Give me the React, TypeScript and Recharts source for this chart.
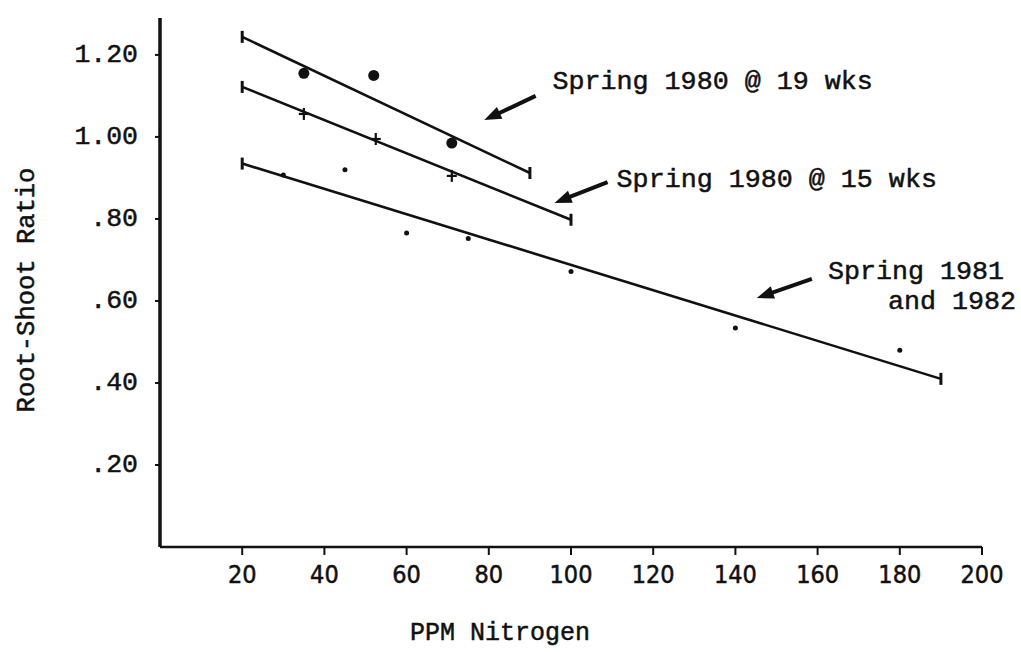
import React from 'react';
import {
  ComposedChart,
  Line,
  Scatter,
  XAxis,
  YAxis,
  ReferenceLine,
  ReferenceDot,
} from 'recharts';

// ---- data ----
const xTicks = [20, 40, 60, 80, 100, 120, 140, 160, 180, 200];
const yTicks = [0.2, 0.4, 0.6, 0.8, 1.0, 1.2];
const yTickLabels = ['.20', '.40', '.60', '.80', '1.00', '1.20'];

const wks19Fit = [
  { x: 20, y: 1.244 },
  { x: 90, y: 0.912 },
];
const wks19Points = [
  { x: 35, y: 1.155 },
  { x: 52, y: 1.15 },
  { x: 71, y: 0.985 },
];
const wks15Fit = [
  { x: 20, y: 1.122 },
  { x: 100, y: 0.798 },
];
const wks15Points = [
  { x: 35, y: 1.056 },
  { x: 52.5, y: 0.995 },
  { x: 71, y: 0.905 },
];
const s8182Fit = [
  { x: 20, y: 0.935 },
  { x: 190, y: 0.41 },
];
const s8182Points = [
  { x: 30, y: 0.907 },
  { x: 45, y: 0.92 },
  { x: 60, y: 0.766 },
  { x: 75, y: 0.752 },
  { x: 100, y: 0.672 },
  { x: 140, y: 0.534 },
  { x: 180, y: 0.48 },
];

// annotation labels (anchor in data units)
const annotationTexts = ['Spring 1980 @ 19 wks', 'Spring 1980 @ 15 wks', 'Spring 1981', 'and 1982'];
const annotationX = [95.5, 111.1, 162.5, 177.1];
const annotationY = [1.134, 0.895, 0.671, 0.598];

// arrows (from -> to, data units)
const arrowSegments = [
  [{ x: 91.4, y: 1.1 }, { x: 78.9, y: 1.041 }],
  [{ x: 108.9, y: 0.89 }, { x: 96.0, y: 0.839 }],
  [{ x: 158.6, y: 0.654 }, { x: 145.2, y: 0.607 }],
];

const MONO = '"Liberation Mono", "DejaVu Sans Mono", monospace';
const NARROW = '"DejaVu Sans Condensed", "DejaVu Sans", sans-serif';
const INK = '#111';

const Arrow = (p: any) => {
  const { x1, y1, x2, y2 } = p;
  const dx = x2 - x1;
  const dy = y2 - y1;
  const L = Math.hypot(dx, dy) || 1;
  const ux = dx / L;
  const uy = dy / L;
  const hl = 17;
  const hw = 6.5;
  const bx = x2 - ux * hl;
  const by = y2 - uy * hl;
  const px = -uy;
  const py = ux;
  return (
    <g>
      <line x1={x1} y1={y1} x2={bx + ux * 2} y2={by + uy * 2} stroke={INK} strokeWidth={4} />
      <polygon
        points={`${x2},${y2} ${bx + px * hw},${by + py * hw} ${bx - px * hw},${by - py * hw}`}
        fill={INK}
      />
    </g>
  );
};

const EndTick = (p: any) => {
  const { cx, cy, index } = p;
  return (
    <line key={`t${index}`} x1={cx} x2={cx} y1={cy - 6} y2={cy + 6} stroke={INK} strokeWidth={3} />
  );
};

const BigDot = (p: any) => <circle cx={p.cx} cy={p.cy} r={5.5} fill={INK} />;
const SmallDot = (p: any) => <circle cx={p.cx} cy={p.cy} r={2.5} fill={INK} />;
const Plus = (p: any) => (
  <g>
    <line x1={p.cx - 5} x2={p.cx + 5} y1={p.cy} y2={p.cy} stroke={INK} strokeWidth={2.2} />
    <line x1={p.cx} x2={p.cx} y1={p.cy - 6} y2={p.cy + 6} stroke={INK} strokeWidth={2.2} />
  </g>
);

const textInk = { fill: INK, stroke: INK, strokeWidth: 0.5 };

const YTick = (p: any) => {
  const { x, y, payload } = p;
  const i = yTicks.indexOf(payload.value);
  return (
    <text x={x} y={y} textAnchor="end" dominantBaseline="central" fontFamily={MONO} fontSize={26.5} {...textInk}>
      {yTickLabels[i] ?? payload.value}
    </text>
  );
};

const XTick = (p: any) => {
  const { x, y, payload } = p;
  return (
    <text x={x} y={y} textAnchor="middle" dominantBaseline="hanging" fontFamily={NARROW} fontSize={25} {...textInk}>
      {payload.value}
    </text>
  );
};

export default function App() {
  return (
    <div style={{ position: 'absolute', left: 0, top: 0, background: '#fff' }}>
      <ComposedChart width={1021} height={652} margin={{ top: 18, right: 39, bottom: 0, left: 0 }}>
        <XAxis
          type="number"
          dataKey="x"
          domain={[0, 200]}
          ticks={xTicks}
          interval={0}
          height={105}
          stroke={INK}
          axisLine={{ stroke: INK, strokeWidth: 2.5 }}
          tickLine={{ stroke: INK, strokeWidth: 2 }}
          tickSize={8}
          tickMargin={10}
          tick={<XTick />}
          label={{
            content: () => (
              <text x={500} y={633} textAnchor="middle" dominantBaseline="central" fontFamily={MONO} fontSize={25} {...textInk}>
                PPM Nitrogen
              </text>
            ),
          }}
        />
        <YAxis
          type="number"
          dataKey="y"
          domain={[0, 1.29]}
          ticks={yTicks}
          interval={0}
          width={160}
          allowDataOverflow
          axisLine={{ stroke: INK, strokeWidth: 3.5 }}
          tickLine={{ stroke: INK, strokeWidth: 2 }}
          tickSize={5}
          tickMargin={17}
          tick={<YTick />}
          label={{
            content: () => (
              <text
                x={27}
                y={290}
                transform="rotate(-90 27 290)"
                textAnchor="middle"
                dominantBaseline="central"
                fontFamily={MONO}
                fontSize={25.5}
                {...textInk}
              >
                Root-Shoot Ratio
              </text>
            ),
          }}
        />

        <Line data={wks19Fit} dataKey="y" stroke={INK} strokeWidth={2.6} dot={EndTick} activeDot={false} isAnimationActive={false} />
        <Line data={wks15Fit} dataKey="y" stroke={INK} strokeWidth={2.6} dot={EndTick} activeDot={false} isAnimationActive={false} />
        <Line data={s8182Fit} dataKey="y" stroke={INK} strokeWidth={2.6} dot={EndTick} activeDot={false} isAnimationActive={false} />

        <Scatter data={wks19Points} dataKey="y" shape={BigDot} isAnimationActive={false} />
        <Scatter data={wks15Points} dataKey="y" shape={Plus} isAnimationActive={false} />
        <Scatter data={s8182Points} dataKey="y" shape={SmallDot} isAnimationActive={false} />

        {arrowSegments.map((seg, i) => (
          <ReferenceLine key={`a${i}`} segment={seg} shape={Arrow} ifOverflow="visible" />
        ))}

        {annotationTexts.map((t, i) => (
          <ReferenceDot
            key={`n${i}`}
            x={annotationX[i]}
            y={annotationY[i]}
            r={0}
            ifOverflow="visible"
            shape={(p: any) => (
              <text
                x={p.cx}
                y={p.cy}
                textAnchor="start"
                dominantBaseline="central"
                fontFamily={MONO}
                fontSize={26.7}
                {...textInk}
              >
                {t}
              </text>
            )}
          />
        ))}
      </ComposedChart>
    </div>
  );
}
